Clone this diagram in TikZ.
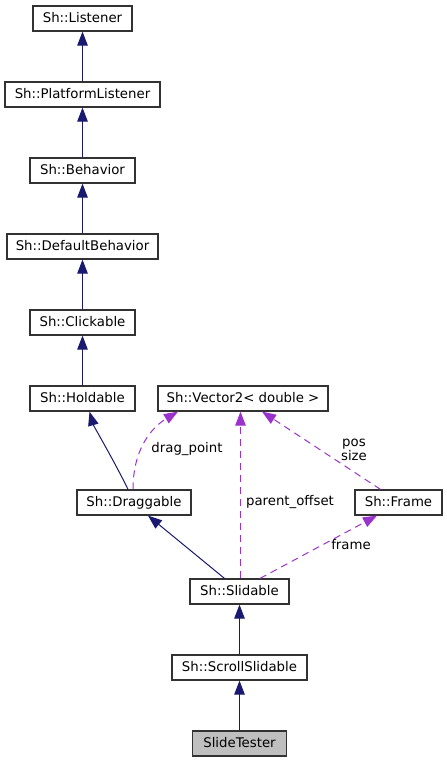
\documentclass[tikz,border=0pt]{standalone}
\usepackage{fontspec}
\setmainfont{DejaVu Sans}
\usetikzlibrary{arrows.meta}
\definecolor{inh}{RGB}{25,25,112}
\definecolor{usage}{RGB}{154,50,205}
\definecolor{boxline}{RGB}{50,50,50}
\definecolor{hl}{RGB}{191,191,191}
\begin{document}
\begin{tikzpicture}[x=1pt,y=-1pt,
  font=\fontsize{13.3}{16}\selectfont,
  cls/.style={draw=boxline, line width=1.2pt, fill=white, minimum height=25pt, inner sep=0pt, text height=9.8pt, text depth=2.6pt},
  inhedge/.style={draw=inh, line width=1pt, -{Triangle[length=14pt,width=10.5pt]}},
  useedge/.style={draw=usage, line width=1pt, dash pattern=on 7pt off 5pt, -{Triangle[length=14pt,width=10.5pt]}},
  lbl/.style={inner sep=0pt, text height=9.8pt, text depth=2.6pt, align=center}
]
\useasboundingbox (0,0) rectangle (447,763);
\node[cls, minimum width=99pt] (listener) at (82.5,18.5) {Sh::Listener};
\node[cls, minimum width=155pt] (plat) at (82.5,94.5) {Sh::PlatformListener};
\node[cls, minimum width=105pt] (beh) at (82.5,170.5) {Sh::Behavior};
\node[cls, minimum width=151pt] (defb) at (82.5,246.5) {Sh::DefaultBehavior};
\node[cls, minimum width=105pt] (click) at (82.5,322.5) {Sh::Clickable};
\node[cls, minimum width=105pt] (hold) at (82.5,398.5) {Sh::Holdable};
\node[cls, minimum width=170pt] (vec) at (243,398.5) {Sh::Vector2< double >};
\node[cls, minimum width=114pt] (drag) at (134,502.5) {Sh::Draggable};
\node[cls, minimum width=87pt] (frame) at (398.5,502.5) {Sh::Frame};
\node[cls, minimum width=99pt] (slid) at (239.5,591.5) {Sh::Slidable};
\node[cls, minimum width=135pt] (scroll) at (239.5,667.5) {Sh::ScrollSlidable};
\node[cls, minimum width=94pt, fill=hl] (tester) at (239.5,743.5) {SlideTester};

\draw[inhedge] (plat.north) -- (listener.south);
\draw[inhedge] (beh.north) -- (plat.south);
\draw[inhedge] (defb.north) -- (beh.south);
\draw[inhedge] (click.north) -- (defb.south);
\draw[inhedge] (hold.north) -- (click.south);
\draw[inhedge] ([xshift=-6pt]drag.north) .. controls +(-12,-25) and +(4,14) .. ([xshift=7pt]hold.south);
\draw[inhedge] ([xshift=-15pt]slid.north) -- ([xshift=14pt]drag.south);
\draw[inhedge] (scroll.north) -- (slid.south);
\draw[inhedge] (tester.north) -- (scroll.south);

\draw[useedge] ([xshift=-1pt]drag.north) .. controls +(0,-42) and +(-25,15) .. ([xshift=-65pt]vec.south);
\draw[useedge] ([xshift=1pt]slid.north) -- ([xshift=-2.5pt]vec.south);
\draw[useedge] ([xshift=-18pt]frame.north) -- ([xshift=19pt]vec.south);
\draw[useedge] ([xshift=20.5pt]slid.north) -- ([xshift=-21.5pt]frame.south);

\node[lbl] (l1) at (187,449) {drag\_point};
\node[lbl] (l2) at (290,502) {parent\_offset};
\node[lbl] (l3) at (354,443) {pos};
\node[lbl] (l4) at (354,457) {size};
\node[lbl] (l5) at (351,546) {frame};
\end{tikzpicture}
\end{document}
